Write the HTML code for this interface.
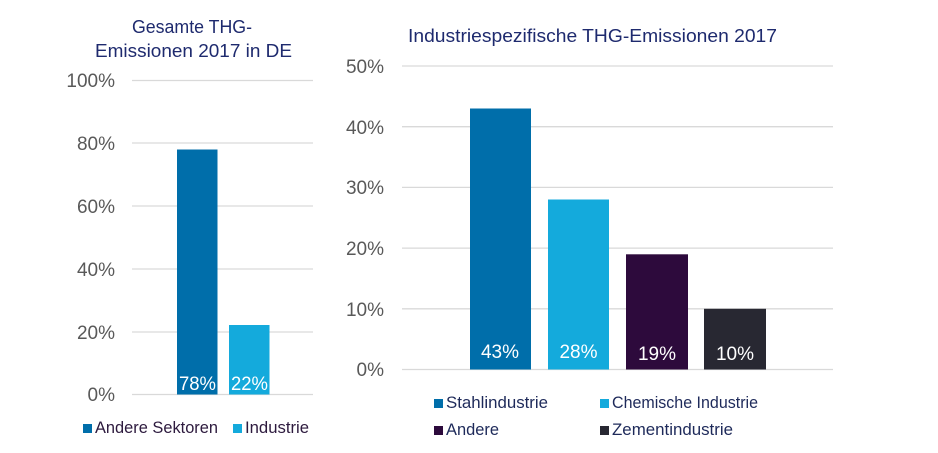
<!DOCTYPE html>
<html><head><meta charset="utf-8"><style>
html,body{margin:0;padding:0;background:#fff;}
svg{display:block;}
text{font-family:"Liberation Sans",sans-serif;}
</style></head><body>
<svg width="938" height="453" viewBox="0 0 938 453" xmlns="http://www.w3.org/2000/svg">
<rect width="938" height="453" fill="#fff"/>
<!-- Left title -->
<text x="132" y="33" font-size="18.5" fill="#1e2a6e" textLength="120" lengthAdjust="spacingAndGlyphs">Gesamte THG-</text>
<text x="95" y="57" font-size="18.5" fill="#1e2a6e" textLength="197" lengthAdjust="spacingAndGlyphs">Emissionen 2017 in DE</text>
<!-- Left grid -->
<g stroke="#d9d9d9" stroke-width="1.3">
<line x1="132" y1="80.5" x2="313" y2="80.5"/>
<line x1="132" y1="143" x2="313" y2="143"/>
<line x1="132" y1="206" x2="313" y2="206"/>
<line x1="132" y1="269" x2="313" y2="269"/>
<line x1="132" y1="332" x2="313" y2="332"/>
<line x1="132" y1="394.5" x2="313" y2="394.5"/>
</g>
<g font-size="19" fill="#595959" text-anchor="end">
<text x="115" y="87">100%</text>
<text x="115" y="150">80%</text>
<text x="115" y="213">60%</text>
<text x="115" y="276">40%</text>
<text x="115" y="339">20%</text>
<text x="115" y="401">0%</text>
</g>
<rect x="177" y="149.5" width="40.5" height="245" fill="#006eaa"/>
<rect x="229" y="325" width="40.5" height="69.5" fill="#14aadc"/>
<text x="179" y="390" font-size="19" fill="#fff" textLength="37" lengthAdjust="spacingAndGlyphs">78%</text>
<text x="231" y="390" font-size="19" fill="#fff" textLength="37" lengthAdjust="spacingAndGlyphs">22%</text>
<!-- Left legend -->
<rect x="83" y="424" width="9" height="9" fill="#006eaa"/>
<text x="95" y="433" font-size="17" fill="#2d1a3e" textLength="123" lengthAdjust="spacingAndGlyphs">Andere Sektoren</text>
<rect x="233" y="424" width="9" height="9" fill="#14aadc"/>
<text x="245" y="433" font-size="17" fill="#2d1a3e" textLength="64" lengthAdjust="spacingAndGlyphs">Industrie</text>

<!-- Right title -->
<text x="408" y="42" font-size="18.5" fill="#1e2a6e" textLength="369" lengthAdjust="spacingAndGlyphs">Industriespezifische THG-Emissionen 2017</text>
<g stroke="#d9d9d9" stroke-width="1.3">
<line x1="402" y1="66" x2="833" y2="66"/>
<line x1="402" y1="126.7" x2="833" y2="126.7"/>
<line x1="402" y1="187.4" x2="833" y2="187.4"/>
<line x1="402" y1="248.1" x2="833" y2="248.1"/>
<line x1="402" y1="308.8" x2="833" y2="308.8"/>
<line x1="402" y1="369.5" x2="833" y2="369.5"/>
</g>
<g font-size="19" fill="#595959" text-anchor="end">
<text x="384" y="73">50%</text>
<text x="384" y="134">40%</text>
<text x="384" y="194">30%</text>
<text x="384" y="255">20%</text>
<text x="384" y="316">10%</text>
<text x="384" y="376">0%</text>
</g>
<rect x="470" y="108.5" width="61" height="261" fill="#006eaa"/>
<rect x="548" y="199.5" width="61" height="170" fill="#14aadc"/>
<rect x="626" y="254.3" width="62" height="115.2" fill="#2d0a3c"/>
<rect x="704" y="308.8" width="62" height="60.7" fill="#282832"/>
<g font-size="19" fill="#fff" text-anchor="middle">
<text x="500" y="358">43%</text>
<text x="578.5" y="358">28%</text>
<text x="657" y="360">19%</text>
<text x="735" y="360">10%</text>
</g>
<!-- Right legend -->
<rect x="434" y="399" width="9" height="9" fill="#006eaa"/>
<text x="446" y="408" font-size="17" fill="#1e2a5a" textLength="102" lengthAdjust="spacingAndGlyphs">Stahlindustrie</text>
<rect x="600" y="399" width="9" height="9" fill="#14aadc"/>
<text x="612" y="408" font-size="17" fill="#1e2a5a" textLength="146" lengthAdjust="spacingAndGlyphs">Chemische Industrie</text>
<rect x="434" y="426" width="9" height="9" fill="#2d0a3c"/>
<text x="446" y="435" font-size="17" fill="#1e2a5a" textLength="53" lengthAdjust="spacingAndGlyphs">Andere</text>
<rect x="600" y="426" width="9" height="9" fill="#282832"/>
<text x="612" y="435" font-size="17" fill="#1e2a5a" textLength="121" lengthAdjust="spacingAndGlyphs">Zementindustrie</text>
</svg>
</body></html>
